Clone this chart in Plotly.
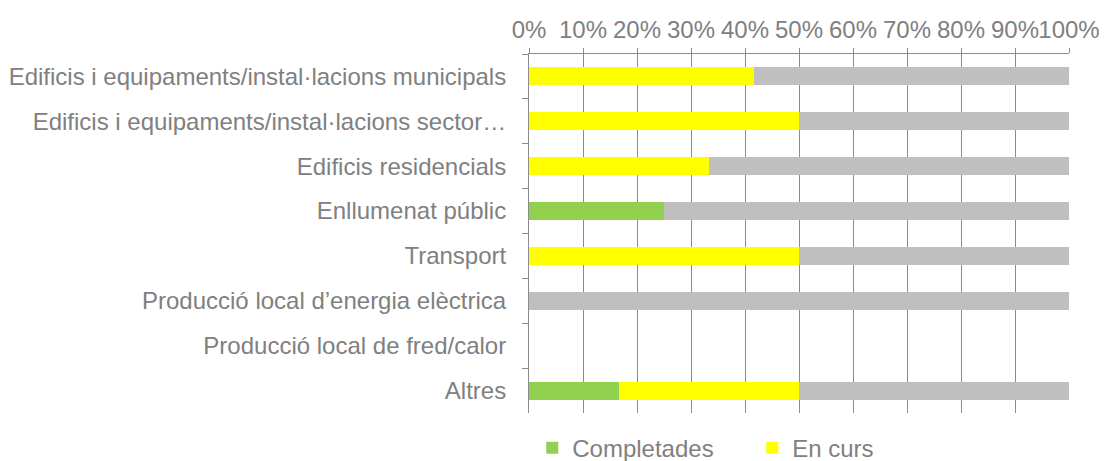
import plotly.graph_objects as go

categories = [
    "Edificis i equipaments/instal·lacions municipals",
    "Edificis i equipaments/instal·lacions sector…",
    "Edificis residencials",
    "Enllumenat públic",
    "Transport",
    "Producció local d’energia elèctrica",
    "Producció local de fred/calor",
    "Altres",
]
completades = [0, 0, 0, 25, 0, 0, 0, 16.7]
en_curs = [41.7, 50, 33.3, 0, 50, 0, 0, 33.3]
no_iniciades = [58.3, 50, 66.7, 75, 50, 100, 0, 50]

FONT = "Arial, 'Liberation Sans', sans-serif"
TXT = "#808080"
LINE = "#8c8c8c"

fig = go.Figure()
fig.add_trace(go.Bar(y=categories, x=completades, name="Completades", orientation="h",
                     marker=dict(color="#92D050", line=dict(width=0))))
fig.add_trace(go.Bar(y=categories, x=en_curs, name="En curs", orientation="h",
                     marker=dict(color="#FFFF00", line=dict(width=0))))
fig.add_trace(go.Bar(y=categories, x=no_iniciades, name="No iniciades", orientation="h",
                     marker=dict(color="#BFBFBF", line=dict(width=0)), showlegend=False))

fig.update_layout(
    barmode="stack",
    bargap=0.6,
    width=1105, height=461,
    margin=dict(l=529, r=36, t=54, b=48, autoexpand=False),
    plot_bgcolor="white", paper_bgcolor="white",
    font=dict(family=FONT, size=24, color=TXT),
    showlegend=True,
    legend=dict(orientation="h", x=0.006, xanchor="left", y=-0.035, yanchor="top",
                entrywidth=175, font=dict(size=24, color=TXT),
                traceorder="normal"),
    xaxis=dict(side="top", range=[0, 100], dtick=10, ticksuffix="%",
               showgrid=True, gridcolor=LINE, gridwidth=1, tickangle=0,
               showline=True, linecolor=LINE, ticks="outside", ticklen=5,
               tickcolor=LINE, zeroline=False, ticklabelstandoff=0),
    yaxis=dict(autorange="reversed", showline=True, linecolor=LINE,
               ticks="outside", tickson="boundaries", ticklen=6, tickcolor=LINE,
               showgrid=False, ticklabelstandoff=17),
)

fig.write_html("out.html")
